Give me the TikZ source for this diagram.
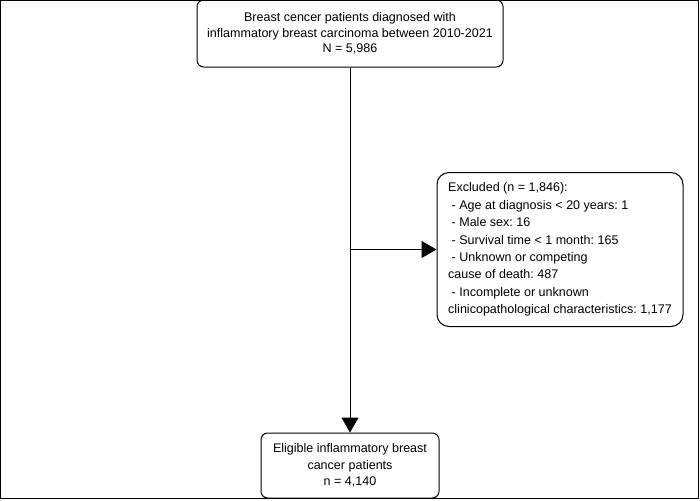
\documentclass[tikz,border=0pt]{standalone}
\usepackage{fontspec}
\setmainfont{Liberation Sans}
\usetikzlibrary{arrows.meta}
\frenchspacing

\begin{document}
\begin{tikzpicture}[x=0.75pt, y=-0.75pt, line width=0.75pt,
    box/.style={draw, rounded corners=5pt, align=center, inner sep=0pt, font=\fontsize{9.4}{11.8}\selectfont},
    arr/.style={-{Triangle[length=11.25pt, width=12.75pt]}}]

            % Рамка
            \useasboundingbox (0,0) rectangle (700,500);
            \draw (0,0) rectangle (698,498);

            % Исходная выборка
            \node[box, minimum width=229.5pt, minimum height=50.25pt] (Pat) at (350,33.5)
                {Breast cencer patients diagnosed with\\inflammatory breast carcinoma between 2010-2021\\N = 5,986};

            % Исключённые
            \node[box, rounded corners=9pt, align=left, minimum width=184.5pt,
                  minimum height=115.5pt, font=\fontsize{9.4}{13.1}\selectfont] (Exc) at (560,249.5)
                {Excluded (n = 1,846):\\
                 \ - Age at diagnosis < 20 years: 1\\
                 \ - Male sex: 16\\
                 \ - Survival time < 1 month: 165\\
                 \ - Unknown or competing\\
                 cause of death: 487\\
                 \ - Incomplete or unknown\\
                 clinicopathological characteristics: 1,177};

            % Итоговая выборка
            \node[box, minimum width=133.5pt, minimum height=48.75pt, font=\fontsize{9.4}{12.3}\selectfont] (Elig) at (350,465.5)
                {Eligible inflammatory breast\\cancer patients\\n = 4,140};

            % Связи
            \coordinate (J) at (350,249.5);
            \draw[arr] (Pat.south) -- (Elig.north);
            \draw[arr] (J) -- (Exc.west);
\end{tikzpicture}
\end{document}
